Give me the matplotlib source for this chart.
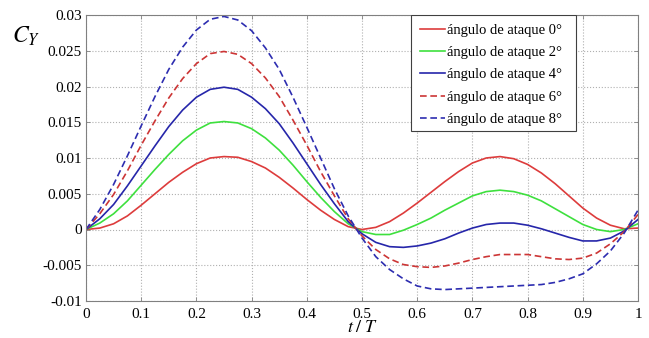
import matplotlib
matplotlib.use("Agg")
import matplotlib.pyplot as plt
from matplotlib.patches import Rectangle

t = [0.0, 0.025, 0.05, 0.075, 0.1, 0.125, 0.15, 0.175, 0.2, 0.225, 0.25, 0.275, 0.3, 0.325,
     0.35, 0.375, 0.4, 0.425, 0.45, 0.475, 0.5, 0.525, 0.55, 0.575, 0.6, 0.625, 0.65, 0.675,
     0.7, 0.725, 0.75, 0.775, 0.8, 0.825, 0.85, 0.875, 0.9, 0.925, 0.95, 0.975, 1.0]

cy_0 = [0.0, 0.0002, 0.0008, 0.0019, 0.0034, 0.0050, 0.0066, 0.0080, 0.0092, 0.0100, 0.0102,
        0.0101, 0.0095, 0.0086, 0.0073, 0.0058, 0.0042, 0.0027, 0.0014, 0.0004, 0.0000, 0.0003,
        0.0011, 0.0023, 0.0037, 0.0052, 0.0067, 0.0081, 0.0093, 0.0100, 0.0102, 0.0099, 0.0091,
        0.0079, 0.0064, 0.0047, 0.0030, 0.0016, 0.0006, 0.0001, 0.0002]
cy_2 = [0.0, 0.0009, 0.0022, 0.0040, 0.0062, 0.0084, 0.0105, 0.0124, 0.0139, 0.0149, 0.0151,
        0.0149, 0.0141, 0.0128, 0.0111, 0.0090, 0.0067, 0.0045, 0.0025, 0.0008, -0.0003, -0.0007,
        -0.0007, -0.0001, 0.0007, 0.0016, 0.0027, 0.0037, 0.0047, 0.0053, 0.0055, 0.0053, 0.0048,
        0.0040, 0.0029, 0.0018, 0.0007, 0.0000, -0.0003, 0.0000, 0.0008]
cy_4 = [0.0, 0.0015, 0.0035, 0.0061, 0.0089, 0.0117, 0.0144, 0.0167, 0.0185, 0.0196, 0.0199,
        0.0196, 0.0185, 0.0169, 0.0148, 0.0121, 0.0092, 0.0063, 0.0036, 0.0011, -0.0006, -0.0018,
        -0.0024, -0.0025, -0.0023, -0.0019, -0.0013, -0.0005, 0.0002, 0.0007, 0.0009, 0.0009, 0.0006,
        0.0001, -0.0005, -0.0011, -0.0016, -0.0016, -0.0012, -0.0002, 0.0014]
cy_6 = [0.0, 0.0022, 0.0049, 0.0082, 0.0118, 0.0152, 0.0184, 0.0211, 0.0232, 0.0246, 0.0249,
        0.0245, 0.0232, 0.0212, 0.0186, 0.0153, 0.0118, 0.0081, 0.0047, 0.0015, -0.0009, -0.0028,
        -0.0041, -0.0049, -0.0052, -0.0053, -0.0051, -0.0047, -0.0042, -0.0038, -0.0035, -0.0035, -0.0035,
        -0.0038, -0.0041, -0.0042, -0.0040, -0.0033, -0.0020, -0.0003, 0.0021]
cy_8 = [0.0, 0.0028, 0.0063, 0.0103, 0.0145, 0.0186, 0.0224, 0.0255, 0.0279, 0.0294, 0.0298,
        0.0293, 0.0278, 0.0254, 0.0224, 0.0185, 0.0143, 0.0100, 0.0057, 0.0019, -0.0012, -0.0038,
        -0.0056, -0.0069, -0.0079, -0.0083, -0.0084, -0.0083, -0.0082, -0.0081, -0.0080, -0.0079, -0.0078,
        -0.0077, -0.0074, -0.0069, -0.0062, -0.0048, -0.0030, -0.0005, 0.0027]

labels = ["ángulo de ataque 0°", "ángulo de ataque 2°", "ángulo de ataque 4°",
          "ángulo de ataque 6°", "ángulo de ataque 8°"]
x_ticks = [0, 0.1, 0.2, 0.3, 0.4, 0.5, 0.6, 0.7, 0.8, 0.9, 1]
x_tick_labels = ["0", "0.1", "0.2", "0.3", "0.4", "0.5", "0.6", "0.7", "0.8", "0.9", "1"]
y_ticks = [-0.01, -0.005, 0, 0.005, 0.01, 0.015, 0.02, 0.025, 0.03]
y_tick_labels = ["-0.01", "-0.005", "0", "0.005", "0.01", "0.015", "0.02", "0.025", "0.03"]

plt.rcParams['font.family'] = ['Liberation Serif', 'DejaVu Serif']
plt.rcParams['mathtext.fontset'] = 'stix'

W, H = 649, 338
fig = plt.figure(figsize=(W / 100, H / 100), dpi=100)
ax_l, ax_r, ax_t, ax_b = 86, 638, 15, 301
ax = fig.add_axes([ax_l / W, 1 - ax_b / H, (ax_r - ax_l) / W, (ax_b - ax_t) / H])

series = [cy_0, cy_2, cy_4, cy_6, cy_8]
colors = ['#dd3c3c', '#3ee03e', '#2626aa', '#cc3535', '#2d2db0']
styles = ['-', '-', '-', '--', '--']
for ys, c, ls, lab in zip(series, colors, styles, labels):
    kw = dict(color=c, lw=1.2, label=lab)
    if ls == '--':
        ax.plot(t, ys, ls, dashes=(4, 2.2), **kw)
    else:
        ax.plot(t, ys, ls, **kw)

ax.set_xlim(0, 1)
ax.set_ylim(-0.01, 0.03)
ax.set_xticks(x_ticks)
ax.set_xticklabels(x_tick_labels)
ax.set_yticks(y_ticks)
ax.set_yticklabels(y_tick_labels)
ax.tick_params(direction='in', top=True, right=True, length=3, width=0.6,
               labelsize=11, colors='#808080', labelcolor='black')
ax.tick_params(axis='x', pad=5)
ax.tick_params(axis='y', pad=3)
ax.grid(True, color='#b0b0b0', linestyle=':', linewidth=0.8)
for s in ax.spines.values():
    s.set_color('#808080')
    s.set_linewidth(0.8)

# legend frame (MATLAB-like, with wide right padding)
aw, ah = ax_r - ax_l, ax_b - ax_t
lx0, lx1, ly0, ly1 = 411, 576, 15, 131
frame = Rectangle(((lx0 - ax_l) / aw, (ax_b - ly1) / ah), (lx1 - lx0) / aw, (ly1 - ly0) / ah,
                  transform=ax.transAxes, facecolor='white', edgecolor='#404040',
                  linewidth=0.8, zorder=4.5)
ax.add_patch(frame)
leg = ax.legend(loc='upper left', bbox_to_anchor=((lx0 - ax_l) / aw, 1.0), borderaxespad=0,
                fontsize=10.5, handlelength=1.75, handletextpad=0.15, labelspacing=0.62,
                borderpad=0.6, frameon=False)
leg.set_zorder(5)

fig.text(12 / W, 1 - 36 / H, r'$C_Y$', fontsize=17, va='center', ha='left')
fig.text(362 / W, 1 - 328 / H, r'$t\;/\;T$', fontsize=13, va='center', ha='center')

fig.savefig('out.png', dpi=100)
